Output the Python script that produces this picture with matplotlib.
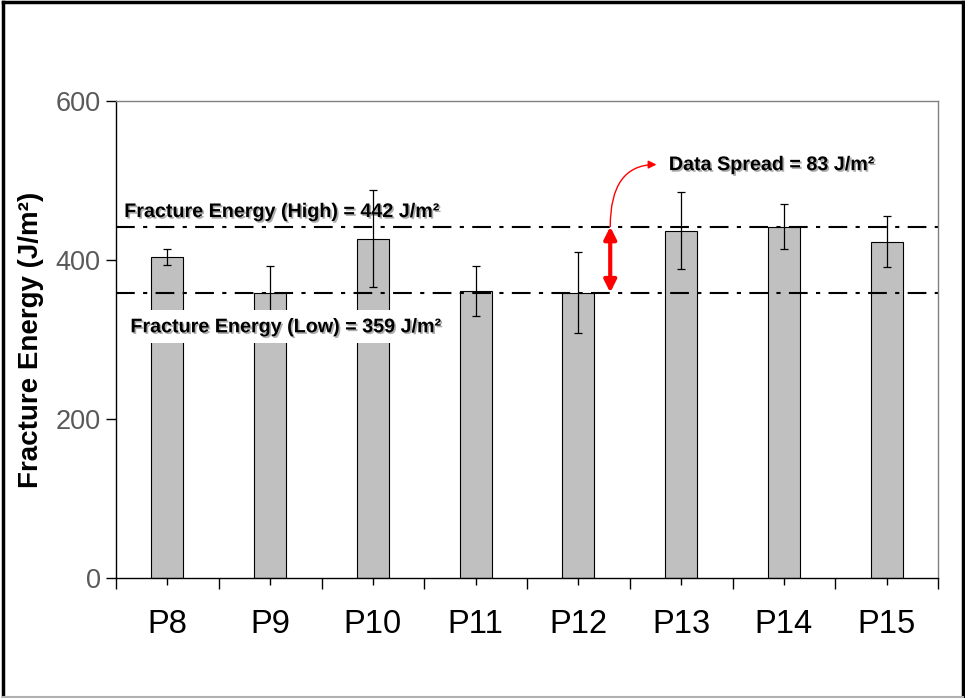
import matplotlib
matplotlib.use('Agg')
import matplotlib.pyplot as plt
import matplotlib.patheffects as pe
from matplotlib.lines import Line2D
import numpy as np

plt.rcParams['font.family'] = ['Liberation Sans', 'DejaVu Sans']

# data
samples = ['P8', 'P9', 'P10', 'P11', 'P12', 'P13', 'P14', 'P15']
energy = [404, 359, 427, 361, 359, 437, 442, 423]
energy_err = [10, 33, 61, 32, 51, 48, 28, 32]
high_level = 442
low_level = 359
y_ticks = [0, 200, 400, 600]

fig = plt.figure(figsize=(9.65, 6.98), dpi=100)
ax = fig.add_axes([116 / 965, 1 - 578 / 698, 822 / 965, 477 / 698])

x = np.arange(len(samples))
ax.bar(x, energy, width=0.31, color='#c0c0c0', edgecolor='black', linewidth=0.8, zorder=2)
ax.errorbar(x, energy, yerr=energy_err, fmt='none', ecolor='black', elinewidth=0.9,
            capsize=3, capthick=0.9, zorder=3)

# high / low reference lines
for lvl in (high_level, low_level):
    ax.axhline(lvl, color='black', linewidth=1.5, linestyle=(0, (9, 4, 2, 4)), zorder=2.5)

shadow = [pe.withSimplePatchShadow(offset=(1.2, -1.2), shadow_rgbFace='#999999', alpha=0.8)]
ax.text(-0.42, high_level + 7, 'Fracture Energy (High) = %d J/m²' % high_level,
        fontsize=14.2, fontweight='bold', va='bottom', ha='left', zorder=2.6,
        path_effects=shadow)
ax.text(-0.36, low_level - 43, 'Fracture Energy (Low) = %d J/m²' % low_level,
        fontsize=14.2, fontweight='bold', va='center', ha='left', zorder=5,
        path_effects=shadow,
        bbox=dict(facecolor='white', edgecolor='none', pad=5))

# data spread arrows
xs = 4.31
ax.annotate('', xy=(xs, high_level), xytext=(xs, low_level),
            arrowprops=dict(arrowstyle='<|-|>', color='red', lw=3, mutation_scale=18,
                            shrinkA=0, shrinkB=0), zorder=6)
ax.annotate('', xy=(4.76, 520), xytext=(xs, high_level),
            arrowprops=dict(arrowstyle='-|>', color='red', lw=1, mutation_scale=12,
                            shrinkA=0, shrinkB=0,
                            connectionstyle='angle3,angleA=90,angleB=0'), zorder=6)
ax.text(4.88, 520, 'Data Spread = %d J/m²' % (high_level - low_level),
        fontsize=14.2, fontweight='bold', va='center', ha='left', path_effects=shadow)

ax.set_xlim(-0.5, len(samples) - 0.5)
ax.set_ylim(0, 600)
ax.set_yticks(y_ticks)
ax.set_yticklabels([str(v) for v in y_ticks], fontsize=19.5, color='#595959')
ax.tick_params(axis='y', direction='out', length=7, width=1, pad=4, colors='black',
               labelcolor='#595959')

ax.set_xticks(np.arange(-0.5, len(samples), 1.0))
ax.set_xticklabels([])
ax.set_xticks(x, minor=True)
ax.set_xticklabels(samples, minor=True, fontsize=23.5)
ax.tick_params(axis='x', which='major', direction='out', length=8, width=1)
ax.tick_params(axis='x', which='minor', direction='out', length=5, width=1, pad=17)

ax.set_ylabel('Fracture Energy (J/m²)', fontsize=20, fontweight='bold', labelpad=8)

for s in ('top', 'right'):
    ax.spines[s].set_color('#808080')
for s in ('left', 'bottom'):
    ax.spines[s].set_color('black')
for s in ax.spines.values():
    s.set_linewidth(1)

# outer frame
fig.add_artist(Line2D([3 / 965, 3 / 965], [0, 1 - 2 / 698], color='black', lw=2.5))
fig.add_artist(Line2D([3 / 965, 963 / 965], [1 - 2 / 698, 1 - 2 / 698], color='black', lw=2.5))
fig.add_artist(Line2D([963 / 965, 963 / 965], [0, 1 - 2 / 698], color='black', lw=2.5))
fig.add_artist(Line2D([3 / 965, 963 / 965], [1 / 698, 1 / 698], color='#b0b0b0', lw=1.5))

fig.savefig('out.png', dpi=100)
